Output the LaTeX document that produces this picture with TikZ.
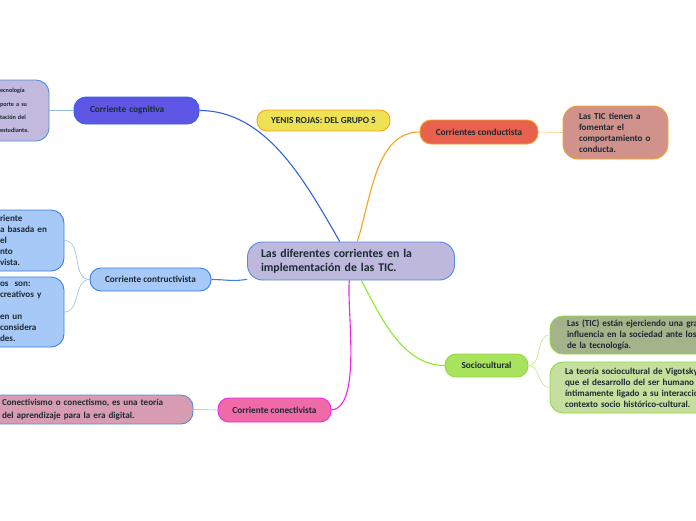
\documentclass[tikz,border=0pt]{standalone}
\usepackage{fontspec}
\setmainfont{Carlito}
\usepackage{tikz}
\usetikzlibrary{positioning, calc}
\definecolor{mmText}{HTML}{1C2A33}
\definecolor{mmCenter}{HTML}{BDB8DC}
\definecolor{mmBlueLine}{HTML}{4F8FD8}
\definecolor{mmYellow}{HTML}{EEE254}
\definecolor{mmOrange}{HTML}{F5A21F}
\definecolor{mmCogFill}{HTML}{5F56E6}
\definecolor{mmCogLine}{HTML}{2F62E6}
\definecolor{mmCogLeaf}{HTML}{C1BADE}
\definecolor{mmConFill}{HTML}{A6C9F7}
\definecolor{mmConLine}{HTML}{3D7EE6}
\definecolor{mmPink}{HTML}{F06AA8}
\definecolor{mmMagenta}{HTML}{F024E6}
\definecolor{mmPinkLeaf}{HTML}{D89CB2}
\definecolor{mmRed}{HTML}{E8614D}
\definecolor{mmRedLeaf}{HTML}{D0928B}
\definecolor{mmGreen}{HTML}{A9E35E}
\definecolor{mmGreenLine}{HTML}{8CDB3C}
\definecolor{mmLime}{HTML}{8AEB2A}
\definecolor{mmOlive}{HTML}{A5B38B}
\definecolor{mmSage}{HTML}{C7DF9E}

\begin{document}
\begin{tikzpicture}[
  x=1pt, y=-1pt,
  topic/.style 2 args={
    rectangle, draw=#1, fill=#2, line width=0.9pt,
    text=mmText, font=\bfseries\fontsize{9.3}{10}\selectfont,
    inner sep=0pt, align=center,
  },
  leaf/.style 2 args={
    rectangle, rounded corners=13pt, draw=#1, fill=#2, line width=0.9pt,
    text=mmText, font=\bfseries\fontsize{9.1}{11}\selectfont,
    inner sep=0pt, align=left,
  },
  branch/.style={line width=1.1pt, color=#1},
  twig/.style={line width=0.6pt, color=#1},
]
\useasboundingbox (0,0) rectangle (696,520);
\clip (0,0) rectangle (696,520);

% Central topic
\node[topic={mmBlueLine}{mmCenter}, rounded corners=15pt, minimum width=207pt, minimum height=38pt,
  text width=180pt, align=left, font=\bfseries\fontsize{11.8}{14}\selectfont] (center) at (351,261)
  {Las diferentes corrientes en la\\implementación de las TIC.};

\node[topic={mmOrange}{mmYellow}, rounded corners=10pt, minimum width=133pt, minimum height=21pt] (author) at (323.5,120.5)
  {YENIS ROJAS: DEL GRUPO 5};

% Main branches
\node[topic={mmCogLine}{mmCogFill}, rounded corners=12pt, minimum width=125pt, minimum height=27pt,
  text width=93pt, align=left] (cognitiva) at (136.5,110.5) {Corriente cognitiva};
\node[topic={mmConLine}{mmConFill}, rounded corners=11pt, minimum width=121pt, minimum height=23pt] (constructivista) at (150.5,279.5)
  {Corriente contructivista};
\node[topic={mmMagenta}{mmPink}, rounded corners=11pt, minimum width=113pt, minimum height=24pt] (conectivista) at (274.5,410)
  {Corriente conectivista};
\node[topic={mmOrange}{mmRed}, rounded corners=11pt, minimum width=118pt, minimum height=24pt] (conductista) at (479,132)
  {Corrientes conductista};
\node[topic={mmGreenLine}{mmGreen}, rounded corners=11pt, minimum width=83pt, minimum height=23pt] (sociocultural) at (486.5,365.5)
  {Sociocultural};

% Leaves
\node[leaf={mmBlueLine}{mmCogLeaf}, minimum width=63pt, minimum height=61pt, text width=35pt,
  font=\bfseries\fontsize{6.2}{13.3}\selectfont] (cogLeaf) at (17.5,110.5)
  {ecnología\\porte a su\\tación del\\estudiante.};
\node[leaf={mmConLine}{mmConFill}, minimum width=78pt, minimum height=61pt, text width=50pt] (conLeafA) at (25,240.5)
  {riente\\a basada en\\el\\nto\\vista.};
\node[leaf={mmConLine}{mmConFill}, minimum width=78pt, minimum height=70pt, text width=50pt] (conLeafB) at (25,312)
  {os\ \ son:\\creativos y\\\mbox{}\\en un\\considera\\des.};
\node[leaf={mmBlueLine}{mmPinkLeaf}, rounded corners=12pt, minimum width=207pt, minimum height=29pt, text width=175pt,
  font=\bfseries\fontsize{9.1}{12.5}\selectfont] (ctvLeaf) at (89.5,409.5)
  {Conectivismo o conectismo, es una teoría\\del aprendizaje para la era digital.};
\node[leaf={mmOrange}{mmRedLeaf}, rounded corners=15pt, minimum width=105pt, minimum height=53pt, text width=73pt] (cdtLeaf) at (615.5,132.5)
  {Las TIC tienen a\\fomentar el\\comportamiento o\\conducta.};
\node[leaf={mmGreenLine}{mmOlive}, minimum width=210pt, minimum height=38pt, text width=176pt] (socLeafA) at (655,335)
  {Las (TIC) están ejerciendo una gran\\influencia en la sociedad ante los\\de la tecnología.};
\node[leaf={mmGreenLine}{mmSage}, minimum width=210pt, minimum height=51pt, text width=180pt] (socLeafB) at (655,387.5)
  {La teoría sociocultural de Vigotsky\\que el desarrollo del ser humano\\íntimamente ligado a su interacción\\contexto socio histórico-cultural.};

% Branches from the central topic
\draw[branch=mmCogLine] (cognitiva.east) to[out=0, in=120, looseness=0.9] (center);
\draw[branch=mmOrange] (center) to[out=72, in=180, looseness=0.9] (conductista.west);
\draw[branch=mmConLine] (constructivista.east) to[out=0, in=190] (center);
\draw[branch=mmMagenta] (center) to[out=-95, in=5, looseness=0.6] (conectivista.east);
\draw[branch=mmLime] (center) to[out=-62, in=180, looseness=0.9] (sociocultural.west);

% Leaf connectors
\draw[twig=mmBlueLine!60] (cognitiva.west) -- (cogLeaf.east);
\draw[twig=mmBlueLine!60] (constructivista.west) to[out=180, in=0] (conLeafA.east);
\draw[twig=mmBlueLine!60] (constructivista.west) to[out=180, in=0] (conLeafB.east);
\draw[twig=mmBlueLine!60] (conectivista.west) -- (ctvLeaf.east);
\draw[twig=mmOrange!60] (conductista.east) -- (cdtLeaf.west);
\draw[twig=mmGreenLine!60] (sociocultural.east) to[out=0, in=180] (socLeafA.west);
\draw[twig=mmGreenLine!60] (sociocultural.east) to[out=0, in=180] (socLeafB.west);

\end{tikzpicture}
\end{document}
